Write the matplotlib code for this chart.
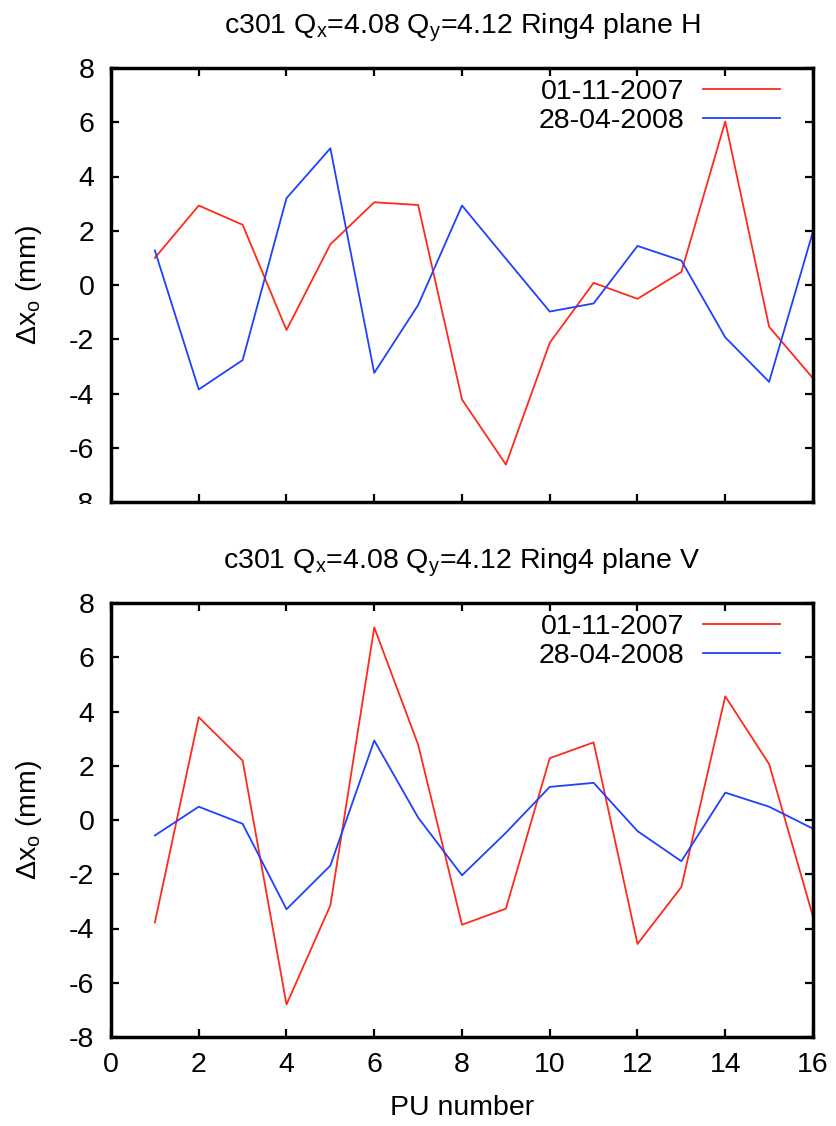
import numpy as np
import matplotlib
matplotlib.use("Agg")
import matplotlib.pyplot as plt
from matplotlib.patches import Rectangle

plt.rcParams['font.family'] = ['Liberation Sans', 'DejaVu Sans']
plt.rcParams['mathtext.default'] = 'regular'
plt.rcParams['axes.unicode_minus'] = False

pu = np.arange(1, 17)
labels = ['01-11-2007', '28-04-2008']

# plane H
h_2007 = [1.0, 2.93, 2.22, -1.66, 1.50, 3.05, 2.95, -4.22,
          -6.62, -2.13, 0.08, -0.51, 0.48, 6.03, -1.54, -3.44]
h_2008 = [1.27, -3.85, -2.77, 3.20, 5.04, -3.24, -0.74, 2.93,
          0.97, -0.98, -0.68, 1.44, 0.90, -1.93, -3.57, 1.97]

# plane V
v_2007 = [-3.78, 3.79, 2.19, -6.80, -3.15, 7.10, 2.78, -3.86,
          -3.27, 2.28, 2.86, -4.57, -2.47, 4.56, 2.06, -3.56]
v_2008 = [-0.57, 0.49, -0.14, -3.29, -1.68, 2.93, 0.09, -2.04,
          -0.47, 1.22, 1.37, -0.41, -1.52, 1.01, 0.49, -0.32]

W, H = 837, 1126
FS = 20.5
fig = plt.figure(figsize=(W / 100, H / 100), dpi=100)


def make_axes(top, bottom):
    return fig.add_axes([111 / W, 1 - bottom / H, (813 - 111) / W, (bottom - top) / H])


def style(ax, plane, show_x):
    ax.set_xlim(0, 16)
    ax.set_ylim(-8, 8)
    ax.set_xticks(np.arange(0, 17, 2))
    ax.set_yticks(np.arange(-8, 9, 2))
    ax.tick_params(direction='in', length=5.5, width=1.6, top=True, right=True,
                   labelsize=FS)
    ax.tick_params(axis='y', pad=12)
    ax.tick_params(axis='x', pad=11)
    if not show_x:
        ax.tick_params(labelbottom=False)
    for s in ax.spines.values():
        s.set_linewidth(2.5)
    ax.set_ylabel(r'$\Delta$x$_o$ (mm)', fontsize=FS, labelpad=18)
    ax.set_title(r'c301 Q$_x$=4.08 Q$_y$=4.12 Ring4 plane ' + plane, fontsize=FS, pad=25)
    ax.legend(loc='upper right', bbox_to_anchor=(1 - 33 / 702, 1 - 11 / 434),
              frameon=False, markerfirst=False, fontsize=FS,
              handlelength=2.7, labelspacing=0.1, borderaxespad=0, borderpad=0,
              handletextpad=0.65, alignment='right')


ax1 = make_axes(68, 502)
ax1.plot(pu, h_2007, color='#ff2a1a', lw=1.3, label=labels[0])
ax1.plot(pu, h_2008, color='#2040ff', lw=1.3, label=labels[1])
style(ax1, 'H', False)

ax2 = make_axes(603, 1037)
ax2.plot(pu, v_2007, color='#ff2a1a', lw=1.3, label=labels[0])
ax2.plot(pu, v_2008, color='#2040ff', lw=1.3, label=labels[1])
style(ax2, 'V', True)
ax2.set_xlabel('PU number', fontsize=FS, labelpad=12)

# the top panel is cut off just below its frame
fig.add_artist(Rectangle((0, 1 - 525 / H), 104 / W, 21 / H, transform=fig.transFigure,
                         facecolor='white', edgecolor='none', zorder=10))

plt.savefig('out.png', dpi=100)
